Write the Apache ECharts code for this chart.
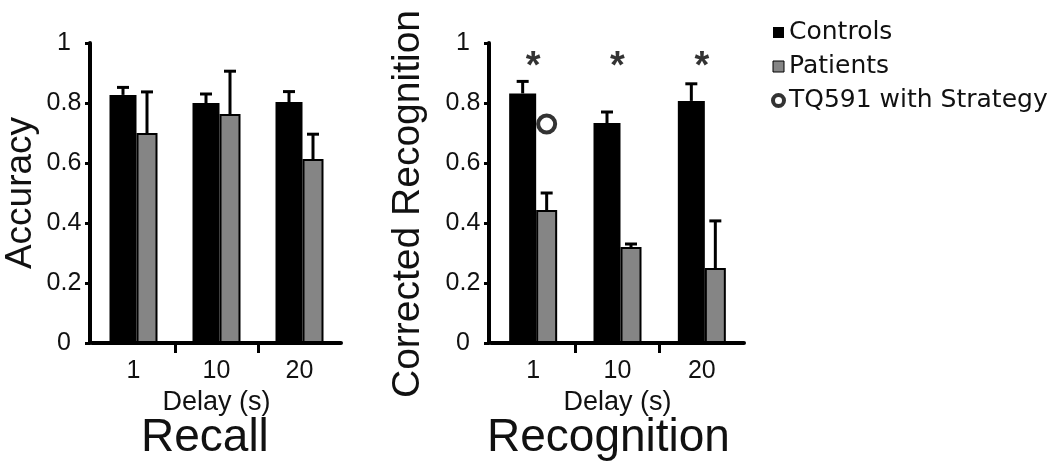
<!DOCTYPE html>
<html><head><meta charset="utf-8">
<script src="https://cdn.jsdelivr.net/npm/echarts@6/dist/echarts.min.js"></script>
<style>html,body{margin:0;padding:0;background:#fff}#c{width:1050px;height:465px}</style>
</head><body><div id="c"></div>
<script>
// ---- data ----
const categories = ['1', '10', '20'];
const recallControls = [0.827, 0.800, 0.803];
const recallControlsErr = [0.025, 0.030, 0.035];
const recallPatients = [0.700, 0.763, 0.613];
const recallPatientsErr = [0.137, 0.143, 0.083];
const recogControls = [0.832, 0.733, 0.807];
const recogControlsErr = [0.040, 0.037, 0.057];
const recogPatients = [0.443, 0.320, 0.250];
const recogPatientsErr = [0.057, 0.010, 0.157];
const tq591Strategy = [0.73, null, null];
const recogSignificant = [true, true, true];
const sigLevel = 0.948;
const tickBoundaries = ['', '', '', ''];

// ---- styles ----
const FONT = 'Liberation Sans';
const TXT = '#111';
const BW_C = 27, BW_P = 21;
const OFF_C = -(BW_P) / 2;      // centre offset of the control bar within a category
const OFF_P = BW_C / 2 + 0;     // centre offset of the patient bar
const GREY = '#858585';

function errData(mean, err) { return mean.map((m, i) => [i, m, m + err[i]]); }
function errRender(off) {
  return function (params, api) {
    const c = api.value(0);
    const p0 = api.coord([c, api.value(1)]);
    const p1 = api.coord([c, api.value(2)]);
    const x = p0[0] + off;
    return { type: 'group', children: [
      { type: 'line', shape: { x1: x, y1: p0[1], x2: x, y2: p1[1] }, style: { stroke: '#000', lineWidth: 3 } },
      { type: 'line', shape: { x1: x - 6, y1: p1[1], x2: x + 6, y2: p1[1] }, style: { stroke: '#000', lineWidth: 3 } }
    ]};
  };
}

function mainX(grid) {
  return {
    type: 'category', gridIndex: grid, data: categories, position: 'bottom',
    axisLine: { lineStyle: { color: '#000', width: 4 } },
    axisTick: { show: false },
    axisLabel: { fontFamily: FONT, fontSize: 25, color: TXT, margin: 16 },
    name: 'Delay (s)', nameLocation: 'middle', nameGap: 43,
    nameTextStyle: { fontFamily: FONT, fontSize: 27, color: TXT }
  };
}
function tickX(grid) {
  return {
    type: 'category', gridIndex: grid, data: tickBoundaries, boundaryGap: false, position: 'bottom',
    axisLine: { show: false }, axisLabel: { show: false }, splitLine: { show: false },
    axisTick: { show: true, length: 10, interval: (i) => i === 1 || i === 2, lineStyle: { color: '#000', width: 3 } }
  };
}
function mainY(grid, name, nameGap, fontSize, padding) {
  return {
    type: 'value', gridIndex: grid, min: 0, max: 1, interval: 0.2, offset: 2,
    axisLine: { show: true, lineStyle: { color: '#000', width: 4 } },
    axisTick: { show: true, length: 5, lineStyle: { color: '#000', width: 3 } },
    splitLine: { show: false },
    axisLabel: { fontFamily: FONT, fontSize: 25, color: TXT, margin: 26, align: 'center' },
    name: name, nameLocation: 'middle', nameGap: nameGap,
    nameTextStyle: { fontFamily: FONT, fontSize: fontSize, color: TXT, padding: padding }
  };
}

const option = {
  animation: false,
  backgroundColor: '#fff',
  title: [
    { text: 'Recall', left: 141, top: 415, padding: 0, textStyle: { fontFamily: FONT, fontSize: 46, fontWeight: 'normal', color: TXT } },
    { text: 'Recognition', left: 487, top: 415, padding: 0, textStyle: { fontFamily: FONT, fontSize: 46, fontWeight: 'normal', color: TXT } }
  ],
  legend: {
    orient: 'vertical', left: 771, top: 20, padding: 0, itemGap: 9, itemWidth: 11, itemHeight: 11,
    selectedMode: false,
    textStyle: { fontFamily: 'DejaVu Sans', fontSize: 25, color: TXT },
    data: [
      { name: 'Controls', icon: 'rect' },
      { name: 'Patients', icon: 'rect', itemStyle: { borderWidth: 1 } },
      { name: 'TQ591 with Strategy', icon: 'circle', itemStyle: { borderWidth: 4 } }
    ]
  },
  grid: [
    { left: 92, top: 43, width: 249, height: 300 },
    { left: 491, top: 43, width: 253, height: 300 }
  ],
  xAxis: [mainX(0), tickX(0), mainX(1), tickX(1)],
  yAxis: [
    mainY(0, 'Accuracy', 51, 37, 0),
    mainY(1, 'Corrected Recognition', 61, 39, [0, 22, 0, 0])
  ],
  series: [
    { name: 'Controls', type: 'bar', xAxisIndex: 0, yAxisIndex: 0, data: recallControls, barWidth: BW_C, barGap: 0,
      itemStyle: { color: '#000' } },
    { name: 'Patients', type: 'bar', xAxisIndex: 0, yAxisIndex: 0, data: recallPatients, barWidth: BW_P, barGap: 0,
      itemStyle: { color: GREY, borderColor: '#000', borderWidth: 2 } },
    { name: 'Controls', type: 'bar', xAxisIndex: 2, yAxisIndex: 1, data: recogControls, barWidth: BW_C, barGap: 0,
      itemStyle: { color: '#000' } },
    { name: 'Patients', type: 'bar', xAxisIndex: 2, yAxisIndex: 1, data: recogPatients, barWidth: BW_P, barGap: 0,
      itemStyle: { color: GREY, borderColor: '#000', borderWidth: 2 } },
    { type: 'custom', xAxisIndex: 0, yAxisIndex: 0, z: 5, data: errData(recallControls, recallControlsErr), renderItem: errRender(OFF_C), encode: { x: 0, y: [1, 2] } },
    { type: 'custom', xAxisIndex: 0, yAxisIndex: 0, z: 5, data: errData(recallPatients, recallPatientsErr), renderItem: errRender(OFF_P), encode: { x: 0, y: [1, 2] } },
    { type: 'custom', xAxisIndex: 2, yAxisIndex: 1, z: 5, data: errData(recogControls, recogControlsErr), renderItem: errRender(OFF_C), encode: { x: 0, y: [1, 2] } },
    { type: 'custom', xAxisIndex: 2, yAxisIndex: 1, z: 5, data: errData(recogPatients, recogPatientsErr), renderItem: errRender(OFF_P), encode: { x: 0, y: [1, 2] } },
    { name: 'TQ591 with Strategy', type: 'scatter', xAxisIndex: 2, yAxisIndex: 1, z: 6,
      data: tq591Strategy.map(v => v === null ? '-' : v),
      symbol: 'circle', symbolSize: 17, symbolOffset: [OFF_P, 0],
      itemStyle: { color: '#fff', borderColor: '#000', borderWidth: 4 } },
    { name: 'sig', type: 'scatter', xAxisIndex: 2, yAxisIndex: 1, z: 6,
      data: recogSignificant.map(s => s ? sigLevel : '-'),
      symbol: 'circle', symbolSize: 1, itemStyle: { color: 'transparent' },
      label: { show: true, formatter: '*', position: 'inside', offset: [0, 9], fontFamily: FONT, fontSize: 38, fontWeight: 'bold', color: '#000' } }
  ]
};
const chart = echarts.init(document.getElementById('c'), null, { renderer: 'canvas' });
chart.setOption(option);
</script>
</body></html>
